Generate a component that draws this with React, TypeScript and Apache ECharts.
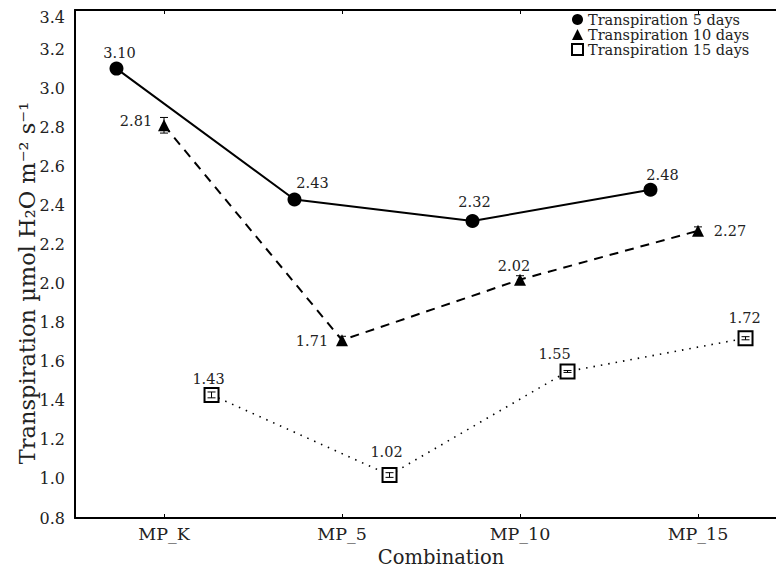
import React, { useEffect, useRef } from "react";
import * as echarts from "echarts";

const categories = ["MP_K", "MP_5", "MP_10", "MP_15"];
const seriesNames = ["Transpiration 5 days", "Transpiration 10 days", "Transpiration 15 days"];
const days5 = [3.1, 2.43, 2.32, 2.48];
const days10 = [2.81, 1.71, 2.02, 2.27];
const days15 = [1.43, 1.02, 1.55, 1.72];
const err5 = [0.02, 0.02, 0.02, 0.02];
const err10 = [0.04, 0.02, 0.02, 0.02];
const err15 = [0.015, 0.012, 0.005, 0.008];
const yMin = 0.8;
const yMax = 3.4;
const yStep = 0.2;
const xTitle = "Combination";
const yTitle = "Transpiration µmol H₂O m⁻² s⁻¹";

// layout/style (not data)
const dodge = [-0.267, 0, 0.267];
const labelOffsets = [
  [[3, -16], [18, -17], [2, -19], [12, -15]],
  [[-28, -4], [-30, 1], [-6, -14], [32, 0]],
  [[-3, -16], [-3, -23], [-13, -17], [-1, -20]],
];
const FONT = "DejaVu Serif";
const TXT = "#222";

function fmt(v: number) {
  return v.toFixed(2);
}

export default function App() {
  const ref = useRef<HTMLDivElement>(null);
  useEffect(() => {
    if (!ref.current) return;
    const chart = echarts.init(ref.current, null, { renderer: "svg" });
    const values = [days5, days10, days15];
    const errs = [err5, err10, err15];
    const symbols = ["circle", "triangle", "rect"];
    const sizes = [14, 12, 14];
    const lineTypes: any[] = ["solid", [9, 7], [1.5, 6]];
    const lineWidths = [2, 2, 1.6];

    const lineSeries = values.map((vals, s) => ({
      type: "line",
      name: seriesNames[s],
      xAxisIndex: 1,
      yAxisIndex: 0,
      z: 2,
      clip: false,
      symbol: symbols[s],
      symbolSize: sizes[s],
      lineStyle: { color: "#000", width: lineWidths[s], type: lineTypes[s] },
      itemStyle:
        s === 2
          ? { color: "#fff", borderColor: "#000", borderWidth: 2 }
          : { color: "#000", borderColor: "#000", borderWidth: 0 },
      data: vals.map((v, i) => ({
        value: [i + dodge[s], v],
        label: {
          show: true,
          position: "inside",
          offset: labelOffsets[s][i],
          formatter: fmt(v),
          color: TXT,
          fontFamily: FONT,
          fontSize: 14.5,
        },
      })),
    }));

    const errSeries = values.map((vals, s) => ({
      type: "custom",
      name: seriesNames[s] + " err",
      xAxisIndex: 1,
      yAxisIndex: 0,
      z: 5,
      silent: true,
      clip: false,
      renderItem: (params: any, api: any) => {
        const x = api.value(0);
        const y = api.value(1);
        const e = api.value(2);
        const t = api.coord([x, y + e]);
        const b = api.coord([x, y - e]);
        const hw = 4;
        const st = { stroke: "#000", lineWidth: 1 };
        return {
          type: "group",
          children: [
            { type: "line", shape: { x1: t[0], y1: t[1], x2: b[0], y2: b[1] }, style: st },
            { type: "line", shape: { x1: t[0] - hw, y1: t[1], x2: t[0] + hw, y2: t[1] }, style: st },
            { type: "line", shape: { x1: b[0] - hw, y1: b[1], x2: b[0] + hw, y2: b[1] }, style: st },
          ],
        };
      },
      data: vals.map((v, i) => [i + dodge[s], v, errs[s][i]]),
    }));

    const option: any = {
      animation: false,
      backgroundColor: "#fff",
      grid: {
        left: 75,
        top: 10,
        height: 508,
        width: 712,
        containLabel: false,
        outerBoundsMode: "none",
      },
      legend: {
        orient: "vertical",
        left: 566,
        top: 7,
        itemWidth: 11,
        itemHeight: 11,
        itemGap: 0,
        textStyle: { fontFamily: FONT, fontSize: 14.5, color: TXT, lineHeight: 15 },
        data: [
          { name: seriesNames[0], icon: "circle" },
          { name: seriesNames[1], icon: "triangle" },
          { name: seriesNames[2], icon: "rect" },
        ],
      },
      xAxis: [
        {
          type: "category",
          data: categories,
          boundaryGap: true,
          position: "bottom",
          axisLine: { onZero: false, lineStyle: { color: "#000", width: 2 } },
          axisTick: { show: true, inside: true, length: 4, alignWithLabel: true, lineStyle: { color: "#000" } },
          axisLabel: { color: TXT, fontFamily: FONT, fontSize: 17.5, margin: 7 },
          splitLine: { show: false },
        },
        {
          type: "value",
          min: -0.5,
          max: 3.5,
          show: false,
          axisLine: { show: false, onZero: false },
          splitLine: { show: false },
        },
        {
          type: "category",
          data: categories,
          boundaryGap: true,
          position: "top",
          axisLine: { onZero: false, lineStyle: { color: "#000", width: 2 } },
          axisTick: { show: true, inside: true, length: 4, alignWithLabel: true, lineStyle: { color: "#000" } },
          axisLabel: { show: false },
          splitLine: { show: false },
        },
      ],
      yAxis: {
        type: "value",
        min: yMin,
        max: yMax,
        interval: yStep,
        position: "left",
        axisLine: { show: true, onZero: false, lineStyle: { color: "#000", width: 2 } },
        axisTick: { show: false },
        splitLine: { show: false },
        axisLabel: {
          color: TXT,
          fontFamily: FONT,
          fontSize: 16,
          margin: 10,
          formatter: (v: number) => (Math.abs(v - yMax) < 1e-6 ? "{top|" + v.toFixed(1) + "}" : v.toFixed(1)),
          rich: { top: { padding: [14, 0, 0, 0], fontFamily: FONT, fontSize: 16, color: TXT } },
        },
      },
      graphic: [
        {
          type: "rect",
          zlevel: 10,
          z: 100,
          shape: { x: 770, y: 12, width: 10, height: 504 },
          style: { fill: "#fff" },
          silent: true,
        },
        {
          type: "text",
          x: 441,
          y: 557,
          style: { text: xTitle, fontFamily: FONT, fontSize: 19.5, fill: TXT, align: "center", verticalAlign: "middle" },
        },
        {
          type: "text",
          x: 27,
          y: 283,
          rotation: Math.PI / 2,
          style: {
            text: yTitle,
            fontFamily: FONT,
            fontSize: 22.5,
            fill: TXT,
            align: "center",
            verticalAlign: "middle",
          },
        },
      ],
      series: [...lineSeries, ...errSeries],
    };
    chart.setOption(option);
    return () => chart.dispose();
  }, []);
  return (
    <div
      ref={ref}
      style={{ position: "absolute", left: 0, top: 0, width: 776, height: 568, background: "#fff", overflow: "hidden" }}
    />
  );
}
